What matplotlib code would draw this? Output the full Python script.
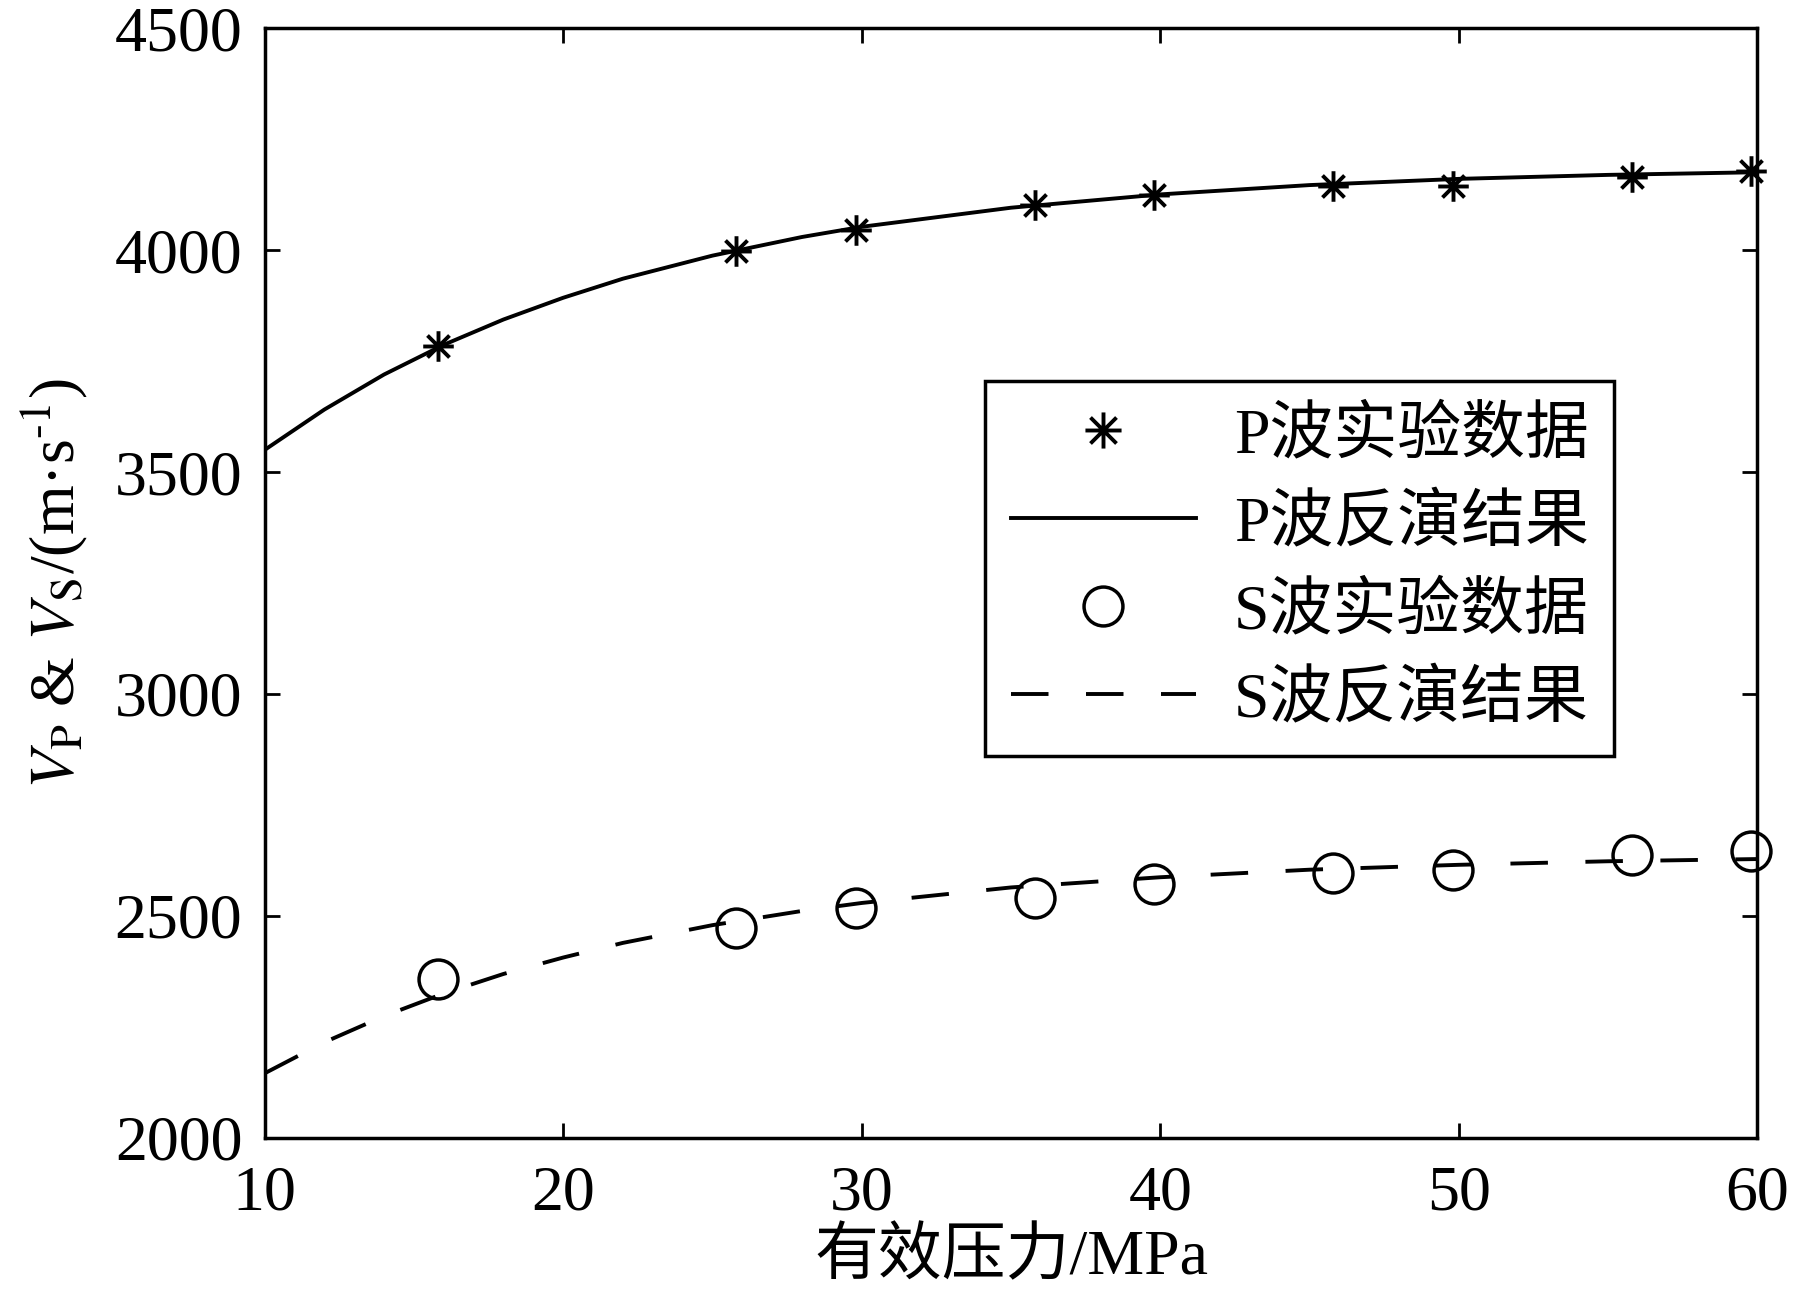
import matplotlib
matplotlib.use('Agg')
import matplotlib.pyplot as plt
from matplotlib.path import Path
from matplotlib.lines import Line2D
import numpy as np

plt.rcParams['font.family'] = ['Liberation Serif', 'Noto Sans CJK SC']
plt.rcParams['mathtext.fontset'] = 'stix'
plt.rcParams['lines.scale_dashes'] = False

# measured points
pressure = [15.8, 25.8, 29.8, 35.8, 39.8, 45.8, 49.8, 55.8, 59.8]
vp_meas = [3785, 3998, 4045, 4101, 4124, 4146, 4146, 4166, 4178]
vs_meas = [2358, 2473, 2517, 2540, 2571, 2597, 2604, 2638, 2646]

# inversion curves
p_fit = [10, 12, 14, 16, 18, 20, 22, 25, 28, 30, 35, 40, 45, 50, 55, 60]
vp_fit = [3550, 3641, 3720, 3787, 3844, 3893, 3936, 3988, 4030, 4053, 4096, 4126, 4147, 4161, 4170, 4176]
vs_fit = [2145, 2215, 2274, 2325, 2369, 2406, 2439, 2479, 2511, 2529, 2564, 2587, 2604, 2615, 2623, 2628]

labels = ['P波实验数据', 'P波反演结果', 'S波实验数据', 'S波反演结果']

# matlab style asterisk: + and x together
d = 0.72
star = Path([(0, -1), (0, 1), (-1, 0), (1, 0), (-d, -d), (d, d), (-d, d), (d, -d)],
            [Path.MOVETO, Path.LINETO] * 4)

fs = 46
lw = 2.8
dash = (0, (27, 27))

fig = plt.figure(figsize=(17.95, 12.94), dpi=100)
ax = fig.add_axes([0.1474, 0.1208, 0.979 - 0.1474, 0.978 - 0.1208])

ax.plot(p_fit, vp_fit, color='black', lw=lw)
ax.plot(p_fit, vs_fit, color='black', lw=lw, linestyle=dash)
ax.plot(pressure, vp_meas, linestyle='none', marker=star, markersize=22,
        markeredgewidth=2.8, color='black', clip_on=False)
ax.plot(pressure, vs_meas, linestyle='none', marker='o', markersize=28,
        markerfacecolor='none', markeredgecolor='black', markeredgewidth=2.5,
        clip_on=False)

ax.set_xlim(10, 60)
ax.set_ylim(2000, 4500)
ax.set_xticks([10, 20, 30, 40, 50, 60])
ax.set_yticks([2000, 2500, 3000, 3500, 4000, 4500])

for s in ax.spines.values():
    s.set_linewidth(2.5)
ax.tick_params(direction='in', length=11, width=2, top=True, right=True,
               labelsize=fs)
ax.tick_params(axis='y', pad=16)
ax.tick_params(axis='x', pad=20)

ax.set_xlabel('有效压力/MPa', fontsize=fs, labelpad=4)
ax.set_ylabel(r'$V_{\mathrm{P}}$ & $V_{\mathrm{S}}$/(m·s$^{\text{-1}}$)', fontsize=fs, labelpad=18)

handles = [
    Line2D([], [], linestyle='none', marker=star, markersize=26, markeredgewidth=2.8, color='black'),
    Line2D([], [], color='black', lw=lw),
    Line2D([], [], linestyle='none', marker='o', markersize=28, markerfacecolor='none',
           markeredgecolor='black', markeredgewidth=2.5),
    Line2D([], [], color='black', lw=lw, linestyle=(0, (27, 27))),
]
leg = ax.legend(handles, labels, loc='upper left', bbox_to_anchor=(0.4828, 0.6823),
                borderaxespad=0, fontsize=fs, handlelength=2.9, handletextpad=0.59,
                labelspacing=0.44, borderpad=0.4, fancybox=False, framealpha=1)
leg.get_frame().set_edgecolor('black')
leg.get_frame().set_linewidth(2.5)

plt.savefig('out.png', dpi=100)
